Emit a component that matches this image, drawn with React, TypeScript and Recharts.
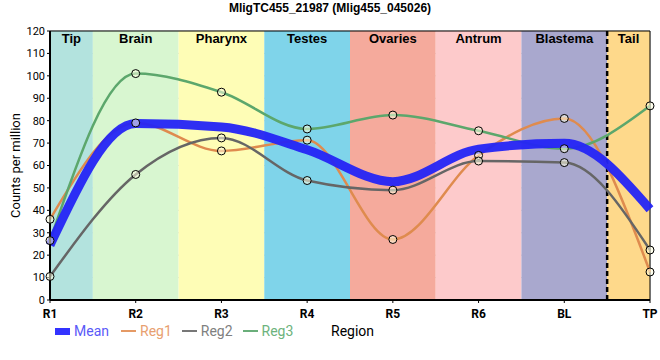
import React from 'react';
import {
  CartesianGrid,
  Line,
  LineChart,
  ReferenceArea,
  ReferenceLine,
  XAxis,
  YAxis,
} from 'recharts';

const categories = ['R1', 'R2', 'R3', 'R4', 'R5', 'R6', 'BL', 'TP'];
const regions = ['Tip', 'Brain', 'Pharynx', 'Testes', 'Ovaries', 'Antrum', 'Blastema', 'Tail'];
const regionColors = ['#b3e3de', '#d8f6d0', '#fefdb6', '#7fd4ea', '#f5aa9c', '#fdcacb', '#a9a8ce', '#fed98b'];
const meanValues = [24.5, 78.7, 77.2, 67.0, 52.8, 67.3, 69.9, 40.5];
const reg1Values = [36, 79, 66.5, 71.3, 27, 64.5, 81, 12.5];
const reg2Values = [10.5, 56, 72.3, 53.3, 49, 62, 61.3, 22.3];
const reg3Values = [26.5, 101, 92.7, 76.3, 82.5, 75.5, 67.5, 86.6];
const yTicks = [0, 10, 20, 30, 40, 50, 60, 70, 80, 90, 100, 110, 120];

const data = categories.map((c, i) => ({
  x: i,
  cat: c,
  mean: meanValues[i],
  reg1: reg1Values[i],
  reg2: reg2Values[i],
  reg3: reg3Values[i],
}));

const COLORS = {
  mean: '#2424f5',
  reg1: '#df8b4e',
  reg2: '#666666',
  reg3: '#5ca76c',
};

const dotStyle = { r: 4, fill: 'rgba(255,255,225,0.55)', stroke: '#000', strokeWidth: 1 };

function CatTick(props: any) {
  const { x, y, payload } = props;
  return (
    <text x={x} y={y + 13} textAnchor="middle" fill="#000" fontSize={12} fontWeight="bold">
      {categories[payload.value]}
    </text>
  );
}

export default function App() {
  const last = categories.length - 1;
  return (
    <div style={{ position: 'absolute', left: 0, top: 0, width: 660, height: 360, background: '#fff', fontFamily: 'Roboto, "Liberation Sans", sans-serif' }}>
      <div
        style={{
          position: 'absolute',
          top: 1,
          left: 0,
          width: 660,
          textAlign: 'center',
          fontFamily: '"Liberation Sans", Arial, sans-serif',
          fontWeight: 'bold',
          fontSize: 12,
          color: '#000',
        }}
      >
        MligTC455_21987 (Mlig455_045026)
      </div>
      <LineChart width={660} height={360} data={data} margin={{ top: 31, right: 10, left: 10, bottom: 30 }}>
        {regions.map((name, i) => (
          <ReferenceArea
            key={name}
            x1={Math.max(0, i - 0.5)}
            x2={Math.min(last, i + 0.5)}
            y1={0}
            y2={120}
            fill={regionColors[i]}
            fillOpacity={1}
            stroke="none"
            label={{
              value: name,
              position: 'insideTop',
              offset: 3,
              fill: '#000',
              fontWeight: 'bold',
              fontSize: 13,
              fontFamily: '"Liberation Sans", Arial, sans-serif',
            }}
          />
        ))}
        <CartesianGrid stroke="#c8c8c8" strokeWidth={1} />
        <XAxis
          type="number"
          dataKey="x"
          domain={[0, last]}
          ticks={categories.map((_, i) => i)}
          interval={0}
          stroke="#000"
          axisLine={{ stroke: '#000', strokeWidth: 2 }}
          tickLine={{ stroke: '#000' }}
          tickSize={3}
          tick={<CatTick />}
          height={30}
        />
        <YAxis
          domain={[0, 120]}
          ticks={yTicks}
          interval={0}
          width={40}
          stroke="#000"
          axisLine={{ stroke: '#000', strokeWidth: 2 }}
          tickLine={{ stroke: '#000' }}
          tickSize={3}
          tick={{ fill: '#000', fontSize: 11 }}
          label={{
            value: 'Counts per million',
            angle: -90,
            position: 'insideLeft',
            offset: 5,
            fill: '#000',
            fontSize: 13,
            style: { textAnchor: 'middle' },
          }}
        />
        <ReferenceLine y={120} stroke="#000" strokeWidth={1} />
        <ReferenceLine x={last} stroke="#000" strokeWidth={1} />
        <ReferenceLine x={last - 0.5} stroke="#000" strokeWidth={2.5} strokeDasharray="5 3" />
        <Line type="monotone" dataKey="reg1" stroke={COLORS.reg1} strokeWidth={2.5} dot={false} isAnimationActive={false} />
        <Line type="monotone" dataKey="reg2" stroke={COLORS.reg2} strokeWidth={2.5} dot={false} isAnimationActive={false} />
        <Line type="monotone" dataKey="reg3" stroke={COLORS.reg3} strokeWidth={2.5} dot={false} isAnimationActive={false} />
        <Line type="monotone" dataKey="mean" stroke={COLORS.mean} strokeWidth={9} strokeOpacity={0.95} strokeLinecap="butt" dot={false} isAnimationActive={false} />
        {/* markers drawn above the mean line */}
        <Line type="monotone" dataKey="reg1" stroke="none" dot={dotStyle} activeDot={false} isAnimationActive={false} />
        <Line type="monotone" dataKey="reg2" stroke="none" dot={dotStyle} activeDot={false} isAnimationActive={false} />
        <Line type="monotone" dataKey="reg3" stroke="none" dot={dotStyle} activeDot={false} isAnimationActive={false} />
      </LineChart>
      <div style={{ position: 'absolute', top: 322, left: 55, height: 18, display: 'flex', alignItems: 'center', fontSize: 14, whiteSpace: 'nowrap' }}>
        <span style={{ display: 'inline-block', width: 15, height: 7, background: '#3333ff', marginRight: 4 }} />
        <span style={{ color: '#5a5af8', marginRight: 12 }}>Mean</span>
        <span style={{ display: 'inline-block', width: 15, height: 2, background: '#e59a65', marginRight: 4 }} />
        <span style={{ color: '#e8a070', marginRight: 10 }}>Reg1</span>
        <span style={{ display: 'inline-block', width: 15, height: 2, background: '#777', marginRight: 4 }} />
        <span style={{ color: '#808080', marginRight: 10 }}>Reg2</span>
        <span style={{ display: 'inline-block', width: 15, height: 2, background: '#6aae7a', marginRight: 4 }} />
        <span style={{ color: '#6db37c' }}>Reg3</span>
      </div>
      <div style={{ position: 'absolute', top: 322, left: 331, height: 18, display: 'flex', alignItems: 'center', fontSize: 14, color: '#000' }}>
        Region
      </div>
    </div>
  );
}
